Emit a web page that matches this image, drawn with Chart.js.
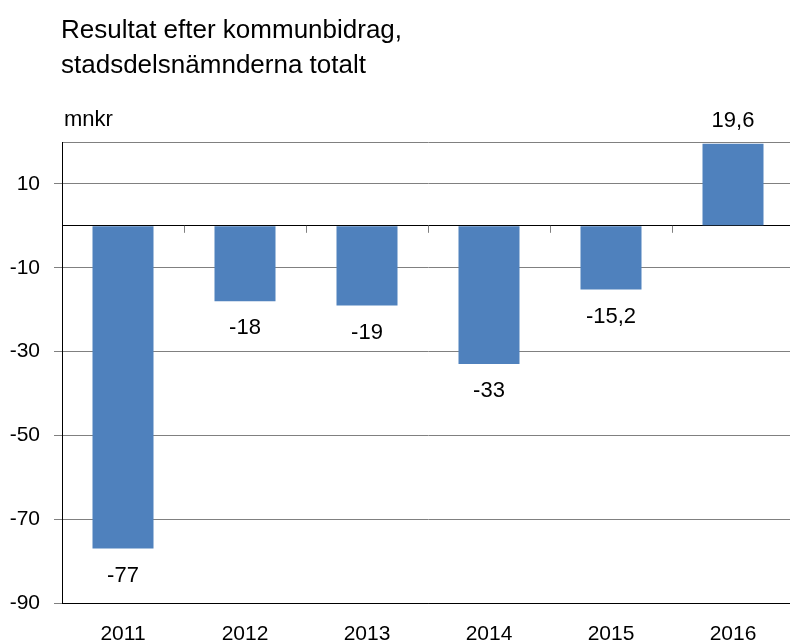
<!DOCTYPE html>
<html>
<head>
<meta charset="utf-8">
<script src="https://cdn.jsdelivr.net/npm/chart.js@4.4.1/dist/chart.umd.min.js"></script>
<style>
  html, body { margin: 0; padding: 0; background: #fff; overflow: hidden; }
  #wrap { position: absolute; left: 0; top: 0; width: 794px; height: 642px; }
</style>
</head>
<body>
<div id="wrap"><canvas id="chart"></canvas></div>
<script>
const years = ["2011", "2012", "2013", "2014", "2015", "2016"];
const result = [-77, -18, -19, -33, -15.2, 19.6];
const yTicks = [-90, -70, -50, -30, -10, 0, 10, 20];
const yLabelled = [-90, -70, -50, -30, -10, 10];
const titleLines = ["Resultat efter kommunbidrag,", "stadsdelsnämnderna totalt"];
const unit = "mnkr";

const FONT = "'Liberation Sans', Arial, sans-serif";

// titel, enhet, värdeetiketter och små streck på nollinjen
const extras = {
  id: "extras",
  afterDatasetsDraw(chart) {
    const { ctx } = chart;
    const x = chart.scales.x, y = chart.scales.y;
    ctx.save();
    ctx.fillStyle = "#000";
    ctx.textAlign = "left";
    ctx.textBaseline = "middle";
    ctx.font = "26px " + FONT;
    ctx.fillText(titleLines[0], 61, 31);
    ctx.fillText(titleLines[1], 61, 66);
    ctx.font = "22px " + FONT;
    ctx.fillText(unit, 64, 120);

    // streck vid kategorigränser
    const zero = y.getPixelForValue(0);
    const step = x.getPixelForValue(1) - x.getPixelForValue(0);
    ctx.strokeStyle = "#808080";
    ctx.lineWidth = 1;
    for (let i = 1; i < years.length; i++) {
      const px = Math.round(x.getPixelForValue(i) - step / 2) + 0.5;
      ctx.beginPath();
      ctx.moveTo(px, zero);
      ctx.lineTo(px, zero + 7);
      ctx.stroke();
    }

    ctx.font = "22px " + FONT;
    ctx.textAlign = "center";
    const meta = chart.getDatasetMeta(0);
    meta.data.forEach((bar, i) => {
      const v = result[i];
      const txt = String(v).replace(".", ",");
      const py = v < 0 ? bar.y + 27 : bar.y - 23;
      ctx.fillText(txt, bar.x, py);
    });
    ctx.restore();
  }
};

new Chart(document.getElementById("chart"), {
  type: "bar",
  data: {
    labels: years,
    datasets: [{
      data: result,
      backgroundColor: "#4F81BD",
      barPercentage: 0.5,
      categoryPercentage: 1.0,
    }]
  },
  options: {
    responsive: true,
    maintainAspectRatio: false,
    animation: false,
    layout: { padding: { top: 142, left: 0, right: 0, bottom: 0 } },
    plugins: { legend: { display: false }, tooltip: { enabled: false } },
    scales: {
      x: {
        grid: { display: false },
        border: { display: true, color: "#000", width: 1 },
        ticks: { color: "#000", font: { family: FONT, size: 21 }, padding: 11 },
        afterFit: (s) => { s.height = 39; },
      },
      y: {
        min: -90,
        max: 20,
        afterBuildTicks: (s) => { s.ticks = yTicks.map(v => ({ value: v })); },
        grid: {
          color: (c) => (c.tick && (c.tick.value === 0 || c.tick.value === -90)) ? "#000" : "#808080",
          tickColor: (c) => (c.tick && yLabelled.includes(c.tick.value)) ? "#808080" : "rgba(0,0,0,0)",
          tickLength: 8,
          lineWidth: 1,
        },
        border: { display: true, color: "#000", width: 1 },
        ticks: {
          color: "#000",
          font: { family: FONT, size: 21 },
          padding: 14,
          callback: (v) => yLabelled.includes(v) ? String(v) : "",
        },
        afterFit: (s) => { s.width = 62; },
      }
    }
  },
  plugins: [extras]
});
</script>
</body>
</html>
